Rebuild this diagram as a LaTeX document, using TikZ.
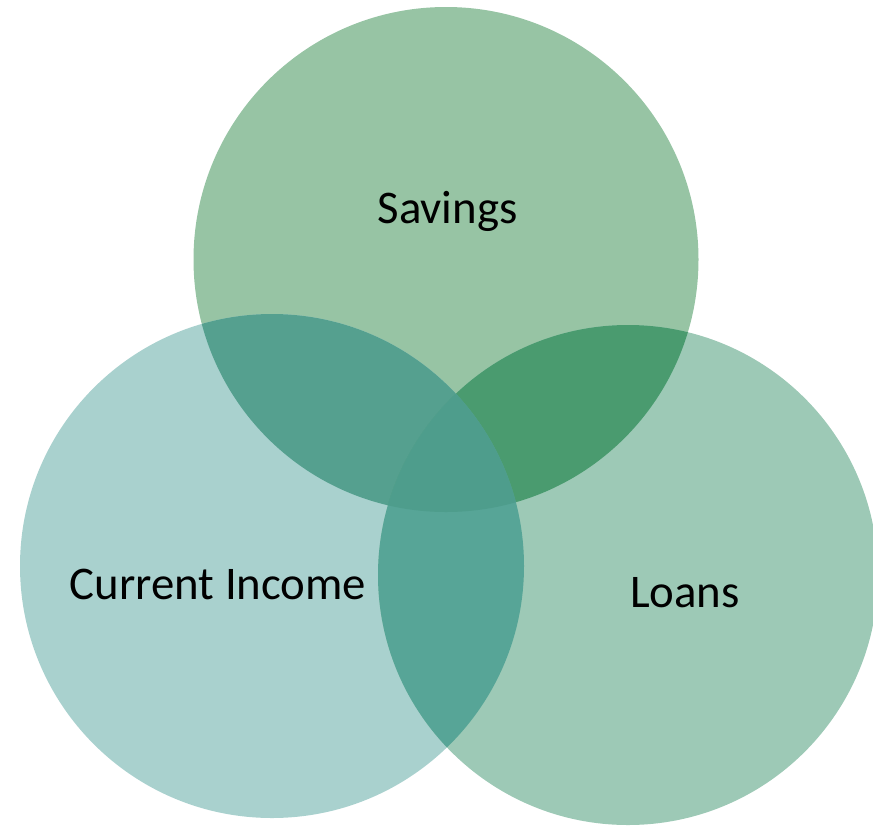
\documentclass[tikz,border=0pt]{standalone}
\usepackage{fontspec}
\setmainfont{Carlito}
\definecolor{cA}{HTML}{97C4A4}
\definecolor{cB}{HTML}{A9D1CE}
\definecolor{cC}{HTML}{9DC9B6}
\definecolor{cAB}{HTML}{55A08F}
\definecolor{cAC}{HTML}{4A9B6F}
\definecolor{cBC}{HTML}{57A597}
\definecolor{cABC}{HTML}{4E9D8C}
\tikzset{lbl/.style={inner sep=0pt, anchor=base, font=\fontsize{46.8}{50}\selectfont, text=black}}
\begin{document}
\begin{tikzpicture}[x=1pt,y=-1pt]
\useasboundingbox (0,0) rectangle (873,828);
\def\cirA{(446,259.5) circle[radius=252.5]}
\def\cirB{(272,566) circle[radius=252]}
\def\cirC{(628,575) circle[radius=250]}
\begin{scope}
\clip (0,0) rectangle (873,828);
\fill[cA] \cirA;
\fill[cB] \cirB;
\fill[cC] \cirC;
\begin{scope}\clip \cirA; \fill[cAB] \cirB; \end{scope}
\begin{scope}\clip \cirA; \fill[cAC] \cirC; \end{scope}
\begin{scope}\clip \cirB; \fill[cBC] \cirC; \end{scope}
\begin{scope}\clip \cirA; \clip \cirB; \fill[cABC] \cirC; \end{scope}
\end{scope}
\node[lbl] (sav) at (447.5,223) {Savings};
\node[lbl] (inc) at (218,599) {Current Income};
\node[lbl] (loa) at (685,607) {Loans};
\end{tikzpicture}
\end{document}
